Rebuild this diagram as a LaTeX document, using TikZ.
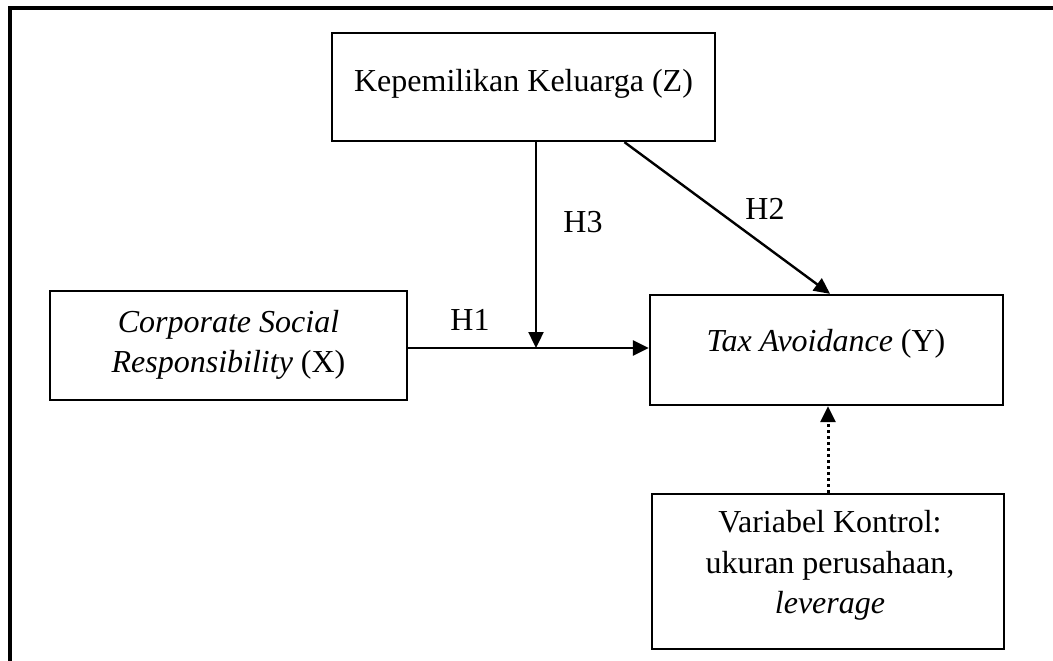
\documentclass[tikz,border=0pt]{standalone}
\usepackage{fontspec}
\setmainfont{Liberation Serif}
\usetikzlibrary{arrows.meta,calc}
\tikzset{
  box/.style={draw, line width=2.3pt, inner sep=0pt},
  txt/.style={font=\fontsize{32}{40.5}\selectfont, inner sep=0pt, anchor=base},
  arr/.style={line width=2.4pt, -{Triangle[length=16pt,width=15pt]}},
  dotarr/.style={line width=3pt, dash pattern=on 3pt off 3pt, -{Triangle[length=16pt,width=15pt]}},
  frame/.style={line width=3.2pt}
}
\begin{document}
\begin{tikzpicture}[x=1pt,y=-1pt]
\useasboundingbox (0,0) rectangle (1053,661);
% outer frame (only top and left visible)
\draw[frame] (10,661) -- (10,8) -- (1053,8);

% boxes
\node[box, minimum width=383pt, minimum height=108pt] (Z) at (523.5,87) {};
\node[box, minimum width=357pt, minimum height=109pt] (X) at (228.5,345.5) {};
\node[box, minimum width=353pt, minimum height=110pt] (Y) at (826.5,350) {};
\node[box, minimum width=352pt, minimum height=155pt] (C) at (828,571.5) {};

% texts
\node[txt] (zt) at (523.5,92) {Kepemilikan Keluarga (Z)};
\node[txt] (xt1) at (228.5,332) {\textit{Corporate Social}};
\node[txt] (xt2) at (228.5,372) {\textit{Responsibility} (X)};
\node[txt] (yt) at (826,351) {\textit{Tax Avoidance} (Y)};
\node[txt] (ct1) at (830,532) {Variabel Kontrol:};
\node[txt] (ct2) at (830,573) {ukuran perusahaan,};
\node[txt] (ct3) at (830,613) {\textit{leverage}};

% connectors
\coordinate (j) at (536,348);
\draw[arr] (X.east |- j) -- (Y.west |- j);
\draw[white, line width=1.3pt] (432,346.4) -- (513,346.4);
\draw[arr] (Z.south -| j) -- (j);
\draw[arr] ($(Z.south west)!0.762!(Z.south east)$) -- ($(Y.north west)!0.51!(Y.north east)$);
\draw[dotarr] (C.north) -- (C.north |- Y.south);

% labels
\node[txt] (h1) at (470,330) {H1};
\node[txt] (h3) at (583,232) {H3};
\node[txt] (h2) at (765,219) {H2};
\end{tikzpicture}
\end{document}
